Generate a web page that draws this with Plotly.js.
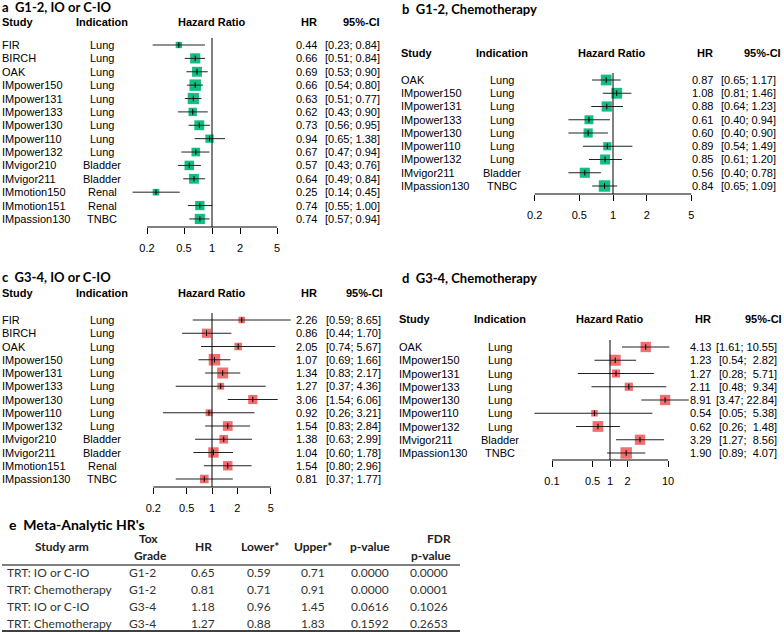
<!DOCTYPE html>
<html><head><meta charset="utf-8">
<script src="https://cdn.plot.ly/plotly-3.0.1.min.js"></script>
<style>html,body{margin:0;padding:0;background:#fff}#chart{width:784px;height:632px}</style>
</head><body><div id="chart"></div>
<script>
// ---------- DATA ----------
const a_study = ["FIR","BIRCH","OAK","IMpower150","IMpower131","IMpower133","IMpower130","IMpower110","IMpower132","IMvigor210","IMvigor211","IMmotion150","IMmotion151","IMpassion130"];
const a_ind = ["Lung","Lung","Lung","Lung","Lung","Lung","Lung","Lung","Lung","Bladder","Bladder","Renal","Renal","TNBC"];
const a_hr = [0.44,0.66,0.69,0.66,0.63,0.62,0.73,0.94,0.67,0.57,0.64,0.25,0.74,0.74];
const a_lo = [0.23,0.51,0.53,0.54,0.51,0.43,0.56,0.65,0.47,0.43,0.49,0.14,0.55,0.57];
const a_hi = [0.84,0.84,0.90,0.80,0.77,0.90,0.95,1.38,0.94,0.76,0.84,0.45,1.00,0.94];

const b_study = ["OAK","IMpower150","IMpower131","IMpower133","IMpower130","IMpower110","IMpower132","IMvigor211","IMpassion130"];
const b_ind = ["Lung","Lung","Lung","Lung","Lung","Lung","Lung","Bladder","TNBC"];
const b_hr = [0.87,1.08,0.88,0.61,0.60,0.89,0.85,0.56,0.84];
const b_lo = [0.65,0.81,0.64,0.40,0.40,0.54,0.61,0.40,0.65];
const b_hi = [1.17,1.46,1.23,0.94,0.90,1.49,1.20,0.78,1.09];

const c_study = ["FIR","BIRCH","OAK","IMpower150","IMpower131","IMpower133","IMpower130","IMpower110","IMpower132","IMvigor210","IMvigor211","IMmotion151","IMpassion130"];
const c_ind = ["Lung","Lung","Lung","Lung","Lung","Lung","Lung","Lung","Lung","Bladder","Bladder","Renal","TNBC"];
const c_hr = [2.26,0.86,2.05,1.07,1.34,1.27,3.06,0.92,1.54,1.38,1.04,1.54,0.81];
const c_lo = [0.59,0.44,0.74,0.69,0.83,0.37,1.54,0.26,0.83,0.63,0.60,0.80,0.37];
const c_hi = [8.65,1.70,5.67,1.66,2.17,4.36,6.06,3.21,2.84,2.99,1.78,2.96,1.77];

const d_study = ["OAK","IMpower150","IMpower131","IMpower133","IMpower130","IMpower110","IMpower132","IMvigor211","IMpassion130"];
const d_ind = ["Lung","Lung","Lung","Lung","Lung","Lung","Lung","Bladder","TNBC"];
const d_hr = [4.13,1.23,1.27,2.11,8.91,0.54,0.62,3.29,1.90];
const d_lo = [1.61,0.54,0.28,0.48,3.47,0.05,0.26,1.27,0.89];
const d_hi = [10.55,2.82,5.71,9.34,22.84,5.38,1.48,8.56,4.07];

const ticks_abc = [0.2,0.5,1,2,5];
const ticks_d = [0.1,0.5,1,2,10];

const e_arm = ["TRT: IO or C-IO","TRT: Chemotherapy","TRT: IO or C-IO","TRT: Chemotherapy"];
const e_grade = ["G1-2","G1-2","G3-4","G3-4"];
const e_hr = [0.65,0.81,1.18,1.27];
const e_lower = [0.59,0.71,0.96,0.88];
const e_upper = [0.71,0.91,1.45,1.83];
const e_p = [0.0000,0.0000,0.0616,0.1592];
const e_fdr = [0.0000,0.0001,0.1026,0.2653];

// ---------- BUILD ----------
const W=784,H=632;
const X=p=>p/W, Y=p=>1-p/H;
const FF='"Liberation Sans", Arial, sans-serif';
const TF='Lato, "Open Sans", sans-serif';
const GREEN='#14BE82', RED='#F46E70';
const traces=[], annotations=[], shapes=[];
const layout={width:W,height:H,margin:{l:0,r:0,t:0,b:0},paper_bgcolor:'#fff',plot_bgcolor:'rgba(0,0,0,0)',showlegend:false,annotations,shapes};

function fmt(v){return v.toFixed(2);}
function pad(s,n){while(s.length<n)s='\u00a0'+s;return s;}
function txt(x,y,yref,text,anchor,font){
  annotations.push({xref:'paper',yref:yref,x:x,y:y,text:text,xanchor:anchor,yanchor:'middle',showarrow:false,font:font,borderpad:0,borderwidth:0});
}

function panel(idx,cfg,study,ind,hr,lo,hi,color){
  const sfx = idx===1?'':String(idx);
  const xa='x'+sfx, ya='y'+sfx;
  const rows=study.map((_,i)=>i);
  const se=hr.map((_,i)=>(Math.log(hi[i])-Math.log(lo[i]))/3.92);
  const seMin=Math.min(...se);
  const sizes=se.map(s=>11.5*Math.sqrt(seMin/s));
  traces.push({type:'scatter',mode:'markers',x:hr,y:rows,xaxis:xa,yaxis:ya,
    marker:{symbol:'square',size:sizes,color:color,opacity:1,line:{width:0}},hoverinfo:'skip'});
  traces.push({type:'scatter',mode:'markers',x:hr,y:rows,xaxis:xa,yaxis:ya,
    marker:{symbol:'line-ns',size:4,color:'#000',opacity:1,line:{width:1,color:'#000'}},
    error_x:{type:'data',symmetric:false,array:hi.map((h,i)=>h-hr[i]),arrayminus:lo.map((l,i)=>hr[i]-l),thickness:1,width:0,color:'#222'},
    hoverinfo:'skip'});
  layout['xaxis'+sfx]={type:'log',domain:[X(cfg.left),X(cfg.right)],
    range:[(cfg.left-cfg.x1)/cfg.ppd,(cfg.right-cfg.x1)/cfg.ppd],anchor:ya,
    showgrid:false,zeroline:false,showline:false,ticks:'outside',ticklen:6,tickwidth:1,tickcolor:'#000',
    tickmode:'array',tickvals:cfg.tickvals,ticktext:cfg.tickvals.map(String),
    tickfont:{family:FF,size:11,color:'#000'},ticklabelstandoff:5,fixedrange:true};
  layout['yaxis'+sfx]={domain:[Y(cfg.axisPy),Y(cfg.row0-7)],
    range:[(cfg.axisPy-cfg.row0)/cfg.dy,-7/cfg.dy],anchor:xa,visible:false,fixedrange:true};
  const tv=cfg.tickvals;
  shapes.push({type:'line',xref:xa,yref:ya+' domain',x0:tv[0],x1:tv[tv.length-1],y0:0,y1:0,line:{color:'#000',width:1}});
  shapes.push({type:'line',xref:xa,yref:ya+' domain',x0:1,x1:1,y0:0,y1:1,line:{color:'#000',width:1}});
  const f={family:FF,size:11,color:'#000'};
  const Lm=Math.max(...lo.map(v=>fmt(v).length)), Hm=Math.max(...hi.map(v=>fmt(v).length));
  rows.forEach(i=>{
    txt(X(cfg.cStudy),i,ya,study[i],'left',f);
    txt(X(cfg.cInd),i,ya,ind[i],'center',f);
    txt(X(cfg.cHR),i,ya,fmt(hr[i]),'right',f);
    txt(X(cfg.cCI),i,ya,'['+pad(fmt(lo[i]),Lm)+';\u00a0'+pad(fmt(hi[i]),Hm)+']','right',f);
  });
  const hy=Y(cfg.headPy);
  txt(X(cfg.cStudy),hy,'paper','<b>Study</b>','left',f);
  txt(X(cfg.cInd),hy,'paper','<b>Indication</b>','center',f);
  txt(X(cfg.cHRat),hy,'paper','<b>Hazard Ratio</b>','center',f);
  txt(X(cfg.cHR),hy,'paper','<b>HR</b>','right',f);
  txt(X(cfg.cCIh),hy,'paper','<b>95%-CI</b>','right',f);
  txt(X(cfg.tx),Y(cfg.ty),'paper','<b>'+cfg.title+'</b>','left',{family:TF,size:13,color:'#000'});
}

panel(1,{left:128,right:300,x1:212,ppd:93,row0:45,dy:13.38,axisPy:227,tickvals:ticks_abc,
  cStudy:2,cInd:102,cHRat:212,cHR:317,cCI:380,cCIh:380,headPy:22,tx:2,ty:7.5,title:'a\u00a0\u00a0G1-2, IO or C-IO'},
  a_study,a_ind,a_hr,a_lo,a_hi,GREEN);
panel(2,{left:528,right:700,x1:613,ppd:112,row0:80,dy:13.25,axisPy:194,tickvals:ticks_abc,
  cStudy:401,cInd:502,cHRat:612,cHR:713,cCI:776,cCIh:781,headPy:53,tx:402,ty:9,title:'b\u00a0\u00a0G1-2, Chemotherapy'},
  b_study,b_ind,b_hr,b_lo,b_hi,GREEN);
panel(3,{left:140,right:300,x1:212,ppd:84,row0:320,dy:13.25,axisPy:487,tickvals:ticks_abc,
  cStudy:2,cInd:102,cHRat:212,cHR:317,cCI:381,cCIh:383,headPy:293,tx:2,ty:277,title:'c\u00a0\u00a0G3-4, IO or C-IO'},
  c_study,c_ind,c_hr,c_lo,c_hi,RED);
panel(4,{left:525,right:700,x1:610,ppd:58,row0:347,dy:13.25,axisPy:460,tickvals:ticks_d,
  cStudy:399,cInd:500,cHRat:610,cHR:711,cCI:777,cCIh:782,headPy:319,tx:402,ty:278,title:'d\u00a0\u00a0G3-4, Chemotherapy'},
  d_study,d_ind,d_hr,d_lo,d_hi,RED);

// ---------- TABLE e ----------
txt(X(9),Y(524),'paper','<b>e\u00a0\u00a0Meta-Analytic HR\'s</b>','left',{family:TF,size:14,color:'#000'});
const hf={family:TF,size:12,color:'#222'};
const rf={family:TF,size:12,color:'#333'};
const B=s=>'<b>'+s+'</b>';
txt(X(62),Y(546),'paper',B('Study arm'),'center',hf);
txt(X(148),Y(538),'paper',B('Tox'),'center',hf);
txt(X(150),Y(555),'paper',B('Grade'),'center',hf);
txt(X(203),Y(546),'paper',B('HR'),'center',hf);
txt(X(260),Y(546),'paper',B('Lower*'),'center',hf);
txt(X(313),Y(546),'paper',B('Upper*'),'center',hf);
txt(X(370),Y(546),'paper',B('p-value'),'center',hf);
txt(X(439),Y(538),'paper',B('FDR'),'center',hf);
txt(X(431),Y(555),'paper',B('p-value'),'center',hf);
const rowPy=[572,589,606,623];
e_arm.forEach((arm,i)=>{
  const y=Y(rowPy[i]);
  txt(X(7),y,'paper',arm,'left',rf);
  txt(X(142),y,'paper',e_grade[i],'center',rf);
  txt(X(203),y,'paper',e_hr[i].toFixed(2),'center',rf);
  txt(X(259),y,'paper',e_lower[i].toFixed(2),'center',rf);
  txt(X(313),y,'paper',e_upper[i].toFixed(2),'center',rf);
  txt(X(370),y,'paper',e_p[i].toFixed(4),'center',rf);
  txt(X(429),y,'paper',e_fdr[i].toFixed(4),'center',rf);
});
shapes.push({type:'line',xref:'paper',yref:'paper',x0:X(2),x1:X(460),y0:Y(565),y1:Y(565),line:{color:'#000',width:1}});
shapes.push({type:'line',xref:'paper',yref:'paper',x0:X(2),x1:X(460),y0:Y(631),y1:Y(631),line:{color:'#000',width:1.5}});

Plotly.newPlot('chart',traces,layout,{staticPlot:true,displayModeBar:false});
</script></body></html>
